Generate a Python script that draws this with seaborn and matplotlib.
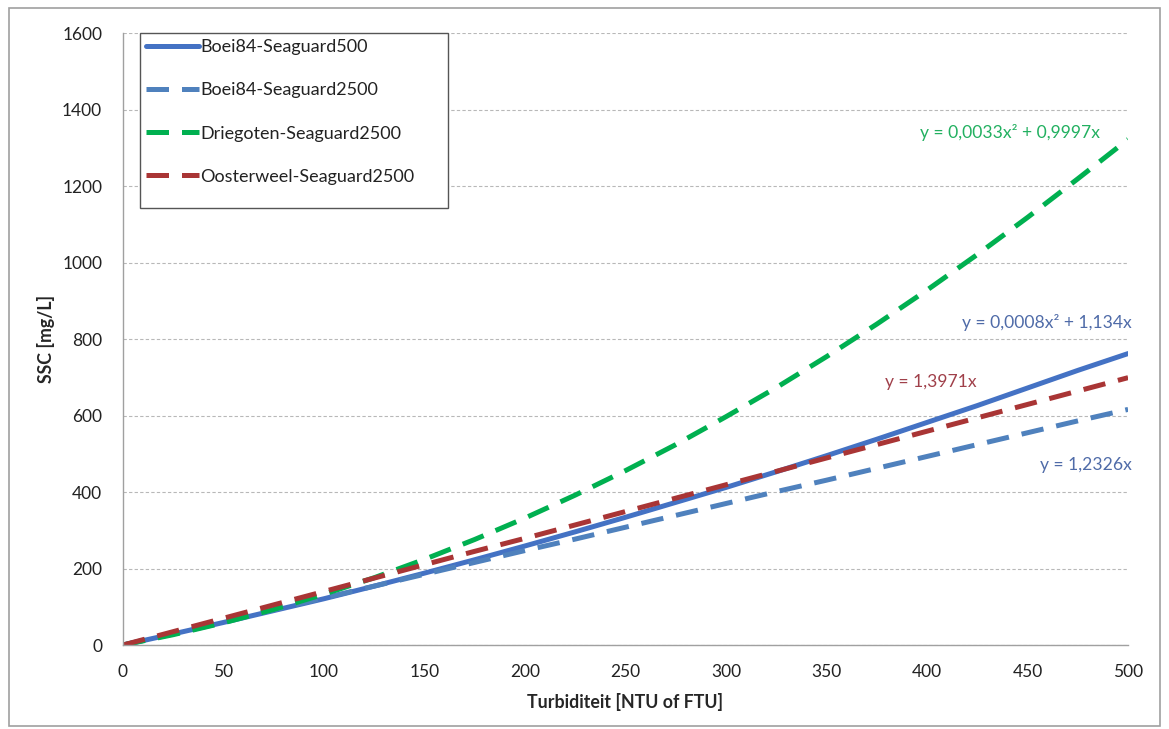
import matplotlib
matplotlib.use("Agg")
import matplotlib.pyplot as plt
import pandas as pd
import seaborn as sns
from matplotlib.patches import Rectangle

# values (SSC in mg/L at each turbidity step)
turbidity = [0, 25, 50, 75, 100, 125, 150, 175, 200, 225, 250,
             275, 300, 325, 350, 375, 400, 425, 450, 475, 500]
boei84_sg500 = [0, 29, 59, 90, 121, 154, 188, 223, 259, 296, 334,
                373, 412, 453, 495, 538, 582, 626, 672, 718, 762]
boei84_sg2500 = [0, 31, 62, 92, 123, 154, 185, 216, 247, 277, 308,
                 339, 370, 401, 431, 462, 493, 524, 555, 586, 616]
driegoten_sg2500 = [0, 27, 58, 93, 133, 176, 224, 276, 332, 392, 456,
                    524, 597, 673, 754, 839, 928, 1021, 1118, 1219, 1322]
oosterweel_sg2500 = [0, 35, 70, 105, 140, 175, 210, 245, 279, 314, 349,
                     384, 419, 454, 489, 524, 559, 594, 629, 664, 699]

series_names = ["Boei84-Seaguard500", "Boei84-Seaguard2500",
                "Driegoten-Seaguard2500", "Oosterweel-Seaguard2500"]
series_values = [boei84_sg500, boei84_sg2500, driegoten_sg2500, oosterweel_sg2500]
colors = ["#4472C4", "#4F81BD", "#00B050", "#A93535"]
dashed = [False, True, True, True]

equations = ["y = 0,0008x\u00b2 + 1,134x", "y = 1,2326x",
             "y = 0,0033x\u00b2 + 0,9997x", "y = 1,3971x"]
eq_colors = ["#4F6BA8", "#4F6BA8", "#22B060", "#A0404A"]

sns.set_theme(style="white")
plt.rcParams["font.family"] = ["Lato", "DejaVu Sans"]

df = pd.DataFrame({
    "turbidity": turbidity * len(series_names),
    "ssc": [v for vals in series_values for v in vals],
    "series": [n for n in series_names for _ in turbidity],
})

fig = plt.figure(figsize=(11.69, 7.29), dpi=100)
ax = fig.add_axes([0.1052, 0.1152, 0.8598, 0.8395])

for name, col, dsh in zip(series_names, colors, dashed):
    sub = df[df["series"] == name]
    sns.lineplot(data=sub, x="turbidity", y="ssc", ax=ax, color=col, lw=3.6,
                 label=name, errorbar=None)
    line = ax.lines[-1]
    if dsh:
        line.set_dashes((4.5, 2.6))
        line.set_dash_capstyle("butt")

ax.set_xlim(0, 500)
ax.set_ylim(0, 1600)
ax.set_xticks(range(0, 501, 50))
ax.set_yticks(range(0, 1601, 200))
ax.yaxis.grid(True, color="#B8B8B8", linestyle=(0, (3, 2)), linewidth=0.8)
ax.set_axisbelow(True)
for side in ["top", "right"]:
    ax.spines[side].set_visible(False)
for side in ["left", "bottom"]:
    ax.spines[side].set_color("#A0A0A0")
    ax.spines[side].set_linewidth(1.0)
ax.tick_params(axis="both", which="both", direction="out", length=5, width=1,
               color="#A0A0A0", labelsize=12.5, labelcolor="#222222")
ax.tick_params(axis="x", pad=9)
ax.tick_params(axis="y", pad=10)

ax.set_xlabel("Turbiditeit [NTU of FTU]", fontsize=12.8, fontweight="bold", labelpad=9)
ax.set_ylabel("SSC [mg/L]", fontsize=12.8, fontweight="bold", labelpad=5)

# fitted equations next to the curves
ax.text(486, 1340, equations[2], color=eq_colors[2], fontsize=12.6, ha="right", va="center")
ax.text(502, 842, equations[0], color=eq_colors[0], fontsize=12.6, ha="right", va="center")
ax.text(402, 687, equations[3], color=eq_colors[3], fontsize=12.6, ha="center", va="center")
ax.text(502, 470, equations[1], color=eq_colors[1], fontsize=12.6, ha="right", va="center")

# legend box (Excel-style, with extra room at the bottom)
ax.add_patch(Rectangle((0.0169, 0.714), 0.3065, 0.286, transform=ax.transAxes,
                       facecolor="white", edgecolor="#555555", linewidth=1.0,
                       clip_on=False, zorder=4))
leg = ax.legend(loc="upper left", bbox_to_anchor=(0.0169, 1.0), fontsize=13,
                handlelength=2.9, handletextpad=0.1, labelspacing=1.5,
                borderpad=0.35, borderaxespad=0.0, frameon=False)
leg.set_zorder(5)
for txt in leg.get_texts():
    txt.set_color("#222222")

fig.patches.append(Rectangle((0.008, 0.004), 0.984, 0.985, transform=fig.transFigure,
                             fill=False, edgecolor="#A0A0A0", linewidth=1.2))

fig.savefig("out.png", dpi=100)
